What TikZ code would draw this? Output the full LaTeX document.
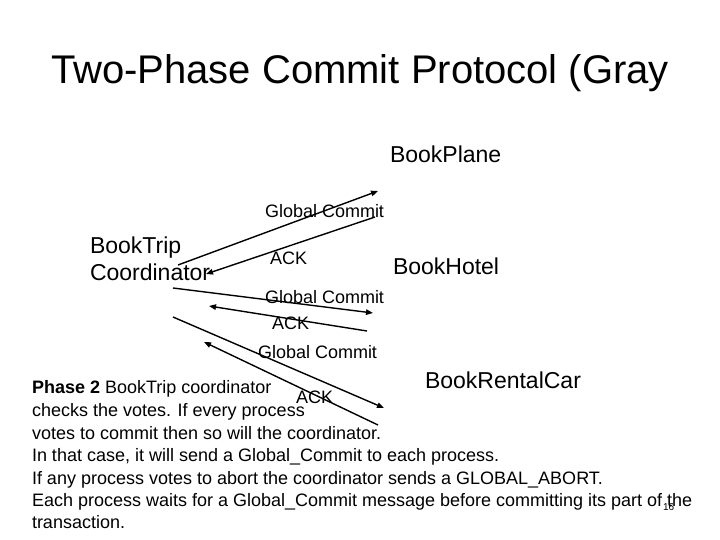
\documentclass[tikz,border=0pt]{standalone}
\usepackage{fontspec}
\setmainfont{Liberation Sans}
\usetikzlibrary{arrows.meta}
\begin{document}
\begin{tikzpicture}[x=1pt,y=-1pt,
  lbl/.style={anchor=base west,inner sep=0pt,outer sep=0pt},
  msg/.style={line width=1.4pt,-{Triangle[length=7pt,width=5.5pt]}},
  proc/.style={lbl,font=\fontsize{23}{27}\selectfont},
  mtxt/.style={lbl,font=\fontsize{18}{21}\selectfont},
  body/.style={lbl,font=\fontsize{18}{21}\selectfont}]
\useasboundingbox (0,0) rectangle (720,540);
\fill[white] (0,0) rectangle (720,540);
\node[anchor=base,inner sep=0pt,font=\fontsize{40}{48}\selectfont] (title) at (360,84) {Two-Phase Commit Protocol (Gray};
\node[proc] (plane) at (390,163) {BookPlane};
\node[proc] (trip) at (90,253) {BookTrip};
\node[proc] (coord) at (90,280) {Coordinator};
\node[proc] (hotel) at (393,274) {BookHotel};
\node[proc] (car) at (425,388) {BookRentalCar};
\node[mtxt] (gc1) at (265,218) {Global Commit};
\node[mtxt] (ack1) at (270,264) {ACK};
\node[mtxt] (gc2) at (265,303) {Global Commit};
\node[mtxt] (ack2) at (272,329) {ACK};
\node[mtxt] (gc3) at (258,358) {Global Commit};
\node[mtxt] (ack3) at (296,403) {ACK};
\coordinate (a1s) at (178,265); \coordinate (a1e) at (378,191);
\coordinate (a2s) at (375,217); \coordinate (a2e) at (206,274);
\coordinate (a3s) at (173,288); \coordinate (a3e) at (373,313);
\coordinate (a4s) at (367,331); \coordinate (a4e) at (209,306);
\coordinate (a5s) at (173,317); \coordinate (a5e) at (384,408);
\coordinate (a6s) at (378,425); \coordinate (a6e) at (204,342);
\draw[msg] (a1s) -- (a1e);
\draw[msg] (a2s) -- (a2e);
\draw[msg] (a3s) -- (a3e);
\draw[msg] (a4s) -- (a4e);
\draw[msg] (a5s) -- (a5e);
\draw[msg] (a6s) -- (a6e);
\node[body] (l1) at (32,393) {\textbf{Phase 2} BookTrip coordinator};
\node[body] (l2) at (32,416) {checks the votes. If every process};
\node[body] (l3) at (32,439) {votes to commit then so will the coordinator.};
\node[body] (l4) at (32,461) {In that case, it will send a Global\_Commit to each process.};
\node[body] (l5) at (32,484) {If any process votes to abort the coordinator sends a GLOBAL\_ABORT.};
\node[body] (l6) at (32,506) {Each process waits for a Global\_Commit message before committing its part of the};
\node[body] (l7) at (32,528) {transaction.};
\node[lbl,font=\fontsize{10}{12}\selectfont] (pg) at (663,510) {16};
\end{tikzpicture}
\end{document}
